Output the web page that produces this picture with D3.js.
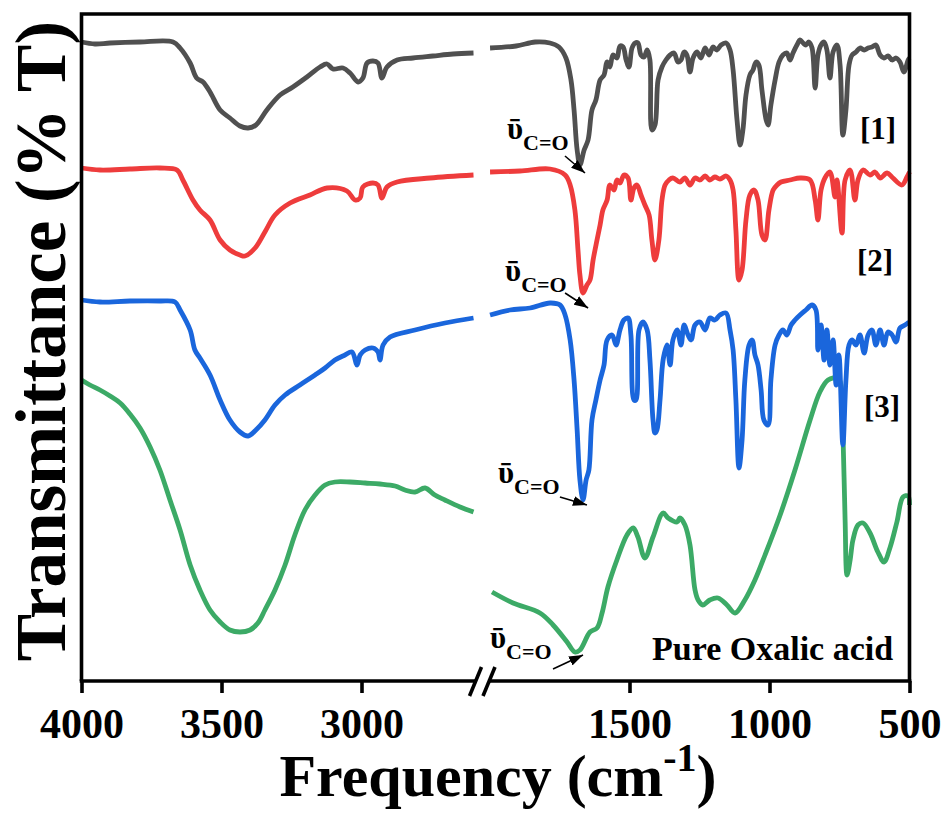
<!DOCTYPE html>
<html><head><meta charset="utf-8">
<script src="https://cdn.jsdelivr.net/npm/d3@7"></script>
<style>
body{margin:0;background:#fff}
svg{display:block}
text{font-family:"Liberation Serif","Times New Roman",serif;font-weight:bold;fill:#000}
</style>
</head><body>
<svg id="chart" width="948" height="814"></svg>
<script>
// ---- data ----
const xTickValues = [4000, 3500, 3000, 1500, 1000, 500];
const seriesNames = ["[1]", "[2]", "[3]", "Pure Oxalic acid"];
const seriesColors = ["#505050", "#ee3c3c", "#1a66dc", "#3caa66"];

const s1Left = [[4000,63.9],[3952,63.7],[3898,63.8],[3791,63.9],[3673,63.9],[3648,63.3],[3612,61.8],[3589,60.3],[3566,59.9],[3541,58.9],[3505,57.1],[3470,56.3],[3434,55.5],[3405,55.3],[3377,55.6],[3338,57.1],[3291,58.6],[3245,59.4],[3195,60.4],[3148,61.4],[3123,61.7],[3102,61.2],[3066,61.3],[3041,60.8],[3012,59.9],[2995,60.3],[2980,61.8],[2959,62.0],[2941,61.8],[2927,60.3],[2909,61.4],[2873,62.1],[2816,62.3],[2745,62.5],[2673,62.7],[2600,62.8]];
const s1Right = [[1998,63.3],[1905,63.5],[1837,63.9],[1784,63.8],[1752,63.4],[1727,62.3],[1709,60.1],[1698,57.1],[1687,53.1],[1677,51.6],[1662,53.1],[1648,54.1],[1634,57.1],[1620,58.1],[1605,60.1],[1591,60.6],[1580,61.9],[1570,61.4],[1559,62.6],[1545,62.3],[1534,63.5],[1523,63.4],[1512,62.1],[1502,61.4],[1491,63.3],[1480,63.8],[1470,63.8],[1459,62.6],[1448,62.4],[1437,63.1],[1427,62.1],[1420,55.1],[1409,55.6],[1398,60.1],[1384,61.4],[1370,62.1],[1355,62.6],[1341,62.8],[1327,61.9],[1316,62.1],[1305,62.9],[1295,62.6],[1284,60.9],[1273,62.3],[1259,62.9],[1245,62.3],[1230,63.3],[1216,62.6],[1202,63.4],[1188,63.1],[1173,63.6],[1155,63.8],[1141,63.1],[1130,61.1],[1116,56.1],[1105,53.6],[1095,55.1],[1084,58.6],[1070,60.6],[1059,61.1],[1048,61.9],[1038,61.6],[1027,59.1],[1012,56.1],[1005,55.6],[995,57.6],[980,60.1],[966,61.9],[952,62.6],[938,62.8],[927,62.1],[916,62.8],[902,63.6],[891,64.1],[880,63.8],[870,63.6],[859,63.9],[848,63.3],[837,59.3],[827,62.6],[816,63.6],[805,63.9],[795,63.1],[784,60.3],[773,62.9],[759,63.6],[748,61.6],[738,54.6],[727,57.1],[716,61.6],[705,62.6],[691,62.9],[677,63.3],[662,63.1],[648,63.3],[634,63.4],[620,63.6],[605,62.6],[591,62.3],[577,62.5],[562,62.1],[548,62.3],[534,61.9],[520,60.9],[505,62.1],[500,62.3]];

const s2Left = [[4000,51.3],[3934,51.1],[3827,51.2],[3720,51.3],[3659,51.1],[3638,50.1],[3602,48.1],[3577,47.1],[3541,46.1],[3505,44.1],[3470,43.1],[3434,42.6],[3416,42.5],[3380,43.3],[3345,44.9],[3309,46.6],[3255,47.8],[3184,48.6],[3123,49.3],[3052,49.0],[3023,48.1],[3005,48.3],[2995,49.4],[2959,49.8],[2941,49.6],[2927,48.3],[2909,49.4],[2873,49.9],[2755,50.3],[2600,50.6]];
const s2Right = [[1998,50.9],[1891,51.0],[1784,51.2],[1730,50.6],[1712,49.6],[1695,47.1],[1684,43.1],[1677,40.6],[1666,38.8],[1652,39.6],[1641,40.1],[1630,42.1],[1616,44.1],[1605,45.6],[1595,47.1],[1580,48.1],[1570,49.6],[1555,49.1],[1545,50.1],[1534,49.8],[1520,50.6],[1505,50.3],[1495,48.1],[1484,49.3],[1473,49.6],[1459,48.6],[1445,47.6],[1430,46.6],[1420,44.1],[1409,42.1],[1395,44.1],[1384,48.1],[1373,49.6],[1359,50.1],[1345,50.3],[1320,49.9],[1302,50.3],[1284,49.6],[1266,50.3],[1248,50.1],[1230,50.5],[1213,50.1],[1195,50.4],[1177,50.2],[1155,50.5],[1141,50.1],[1130,49.1],[1120,45.1],[1109,40.1],[1098,41.1],[1084,46.1],[1070,48.6],[1055,49.1],[1041,48.1],[1027,44.6],[1016,44.1],[1002,47.1],[987,49.1],[973,49.6],[959,49.9],[927,50.1],[891,50.3],[855,50.1],[837,48.1],[827,46.1],[816,49.1],[802,50.3],[784,50.9],[766,48.4],[759,50.1],[741,44.8],[730,50.1],[712,51.1],[695,48.1],[684,50.1],[666,51.1],[641,50.6],[623,50.9],[605,50.3],[580,50.8],[559,50.3],[527,49.6],[509,50.4],[500,50.9]];

const s3Left = [[4000,38.1],[3934,37.9],[3827,38.0],[3720,38.0],[3666,37.9],[3648,37.1],[3612,35.1],[3595,33.1],[3577,32.3],[3541,30.6],[3505,28.1],[3470,26.1],[3434,24.9],[3405,24.5],[3377,25.1],[3345,26.1],[3309,27.6],[3273,28.6],[3220,29.6],[3166,30.6],[3130,31.3],[3095,32.1],[3059,32.6],[3034,32.9],[3016,31.6],[3005,32.6],[2987,33.1],[2959,33.3],[2941,32.9],[2934,32.1],[2923,33.6],[2898,34.4],[2809,35.1],[2702,35.8],[2600,36.3]];
const s3Right = [[1998,36.6],[1927,37.1],[1855,37.3],[1784,37.8],[1748,37.6],[1730,36.6],[1712,34.1],[1698,30.1],[1687,25.1],[1677,20.1],[1666,18.1],[1655,20.1],[1645,21.1],[1634,26.1],[1620,28.1],[1605,30.1],[1591,31.6],[1580,34.1],[1562,34.6],[1548,33.6],[1534,35.1],[1520,36.1],[1505,36.3],[1495,34.6],[1484,28.1],[1477,28.1],[1466,35.1],[1452,35.9],[1437,35.1],[1427,32.1],[1416,26.1],[1409,24.8],[1402,25.1],[1391,28.1],[1380,32.1],[1366,33.6],[1355,31.6],[1345,34.1],[1330,35.1],[1316,33.6],[1305,35.6],[1291,34.6],[1280,34.1],[1266,35.6],[1248,35.9],[1230,35.1],[1213,36.3],[1195,36.1],[1177,36.6],[1155,36.8],[1141,35.1],[1130,33.1],[1120,28.1],[1109,21.3],[1098,24.1],[1088,30.1],[1073,33.6],[1062,34.1],[1052,32.6],[1041,31.6],[1030,29.1],[1020,26.1],[1005,25.6],[995,30.1],[980,33.6],[966,34.6],[952,35.1],[938,34.6],[923,35.6],[909,36.1],[891,36.6],[870,37.1],[848,37.6],[834,37.1],[827,33.1],[816,35.6],[805,32.1],[795,35.1],[784,31.6],[773,34.1],[762,29.6],[752,32.6],[738,23.6],[727,30.1],[716,33.6],[705,34.1],[691,33.6],[677,34.6],[662,32.8],[648,34.6],[634,35.1],[620,33.6],[605,35.1],[591,33.6],[577,34.9],[562,34.6],[548,33.9],[534,35.3],[516,35.6],[502,35.9]];

const s4Left = [[4000,30.1],[3970,29.6],[3934,29.1],[3898,28.5],[3862,27.8],[3827,26.7],[3791,25.3],[3755,23.4],[3720,21.1],[3684,18.1],[3648,15.1],[3612,11.6],[3577,9.1],[3541,7.1],[3505,5.9],[3470,5.1],[3434,4.9],[3398,5.1],[3370,5.8],[3345,7.1],[3309,9.1],[3273,11.6],[3238,14.6],[3202,17.1],[3166,18.6],[3130,19.6],[3095,19.9],[3041,19.9],[2987,19.8],[2934,19.7],[2880,19.5],[2845,19.1],[2809,18.9],[2773,19.3],[2738,18.6],[2702,18.1],[2648,17.4],[2600,16.9]];
const s4Right = [[1991,8.9],[1916,7.8],[1820,6.8],[1773,5.6],[1723,3.9],[1695,2.9],[1677,3.1],[1641,4.9],[1616,5.3],[1598,6.8],[1577,9.4],[1545,12.1],[1509,14.6],[1487,15.3],[1470,14.4],[1445,12.3],[1416,14.4],[1380,16.8],[1362,16.3],[1330,15.9],[1320,16.3],[1302,15.6],[1284,13.6],[1266,9.1],[1255,8.1],[1238,7.6],[1213,8.1],[1184,8.3],[1152,7.6],[1123,6.8],[1088,8.1],[1052,10.1],[1016,12.6],[962,16.6],[909,21.1],[855,26.1],[820,28.9],[791,30.1],[755,30.3],[745,29.6],[738,25.1],[730,16.1],[723,10.6],[712,12.1],[702,14.1],[684,15.6],[666,15.8],[641,14.8],[613,12.9],[591,11.9],[570,13.3],[545,15.9],[523,18.4],[505,18.5],[500,17.6]];

// C=O annotation arrow tips [wavenumber, value]
const coArrowTips = [[1659,50.8],[1648,37.3],[1652,17.6],[1666,2.6]];

// ---- layout ----
const W = 948, H = 814;
const L = 81.5, R = 909.5, T = 14, B = 681;
const svg = d3.select("#chart");
svg.append("rect").attr("width", W).attr("height", H).attr("fill", "#fff");

const x = d3.scaleLinear().domain([4000, 2600, 2000, 500]).range([L, 473.5, 489.5, R]);
const y = d3.scaleLinear().domain([0, 66.7]).range([B, T]);

const line = d3.line().x(d => x(d[0])).y(d => y(d[1])).curve(d3.curveCatmullRom.alpha(0.5));

const allSeries = [[s1Left, s1Right], [s2Left, s2Right], [s3Left, s3Right], [s4Left, s4Right]];
[3, 2, 1, 0].forEach(i => {
  allSeries[i].forEach(seg => {
    svg.append("path").attr("d", line(seg)).attr("fill", "none")
      .attr("stroke", seriesColors[i]).attr("stroke-width", 4.8)
      .attr("stroke-linejoin", "round").attr("stroke-linecap", "butt");
  });
});

// frame
const fw = 3.6;
svg.append("path").attr("d", `M${L},${B} V${T} H${R} V${B}`).attr("fill", "none")
  .attr("stroke", "#000").attr("stroke-width", fw).attr("stroke-linejoin", "miter");

// bottom axis with break
const axisG = svg.append("g").attr("transform", `translate(0,${B})`);
const axis = d3.axisBottom(x).tickValues(xTickValues).tickSize(12).tickPadding(15).tickFormat(d3.format("d"));
axisG.call(axis);
axisG.select(".domain").remove();
axisG.selectAll(".tick line").attr("stroke", "#000").attr("stroke-width", fw);
axisG.selectAll(".tick text").attr("font-size", 42).attr("font-family", '"Liberation Serif",serif')
  .attr("font-weight", "bold").attr("fill", "#000");
const bx1 = 475.5, bx2 = 489;
svg.append("line").attr("x1", L - fw / 2).attr("x2", bx1).attr("y1", B).attr("y2", B).attr("stroke", "#000").attr("stroke-width", fw);
svg.append("line").attr("x1", bx2).attr("x2", R + fw / 2).attr("y1", B).attr("y2", B).attr("stroke", "#000").attr("stroke-width", fw);
[bx1, bx2].forEach(bx => {
  svg.append("line").attr("x1", bx - 6).attr("y1", B + 15).attr("x2", bx + 6).attr("y2", B - 14)
    .attr("stroke", "#000").attr("stroke-width", 3.6);
});

// axis titles
svg.append("text").attr("transform", `translate(65,341) rotate(-90)`).attr("text-anchor", "middle")
  .attr("font-size", 71).text("Transmittance (% T)");
const xt = svg.append("text").attr("x", 498).attr("y", 796).attr("text-anchor", "middle").attr("font-size", 60);
xt.append("tspan").text("Frequency (cm");
xt.append("tspan").attr("font-size", 40).attr("dy", -25).text("-1");
xt.append("tspan").attr("dy", 25).text(")");

// series labels
const labelPos = [[860, 139], [857, 271], [864, 417], [652, 660]];
const labelSize = [31, 31, 31, 34];
seriesNames.forEach((n, i) => {
  svg.append("text").attr("x", labelPos[i][0]).attr("y", labelPos[i][1]).attr("font-size", labelSize[i]).text(n);
});

// C=O annotations
const annOffsets = [[-78, -34, -20, -17], [-83, -27, -23, -15], [-89, -22, -27, -8], [-93, -7, -30, 14]];
svg.append("defs").append("marker").attr("id", "ah").attr("viewBox", "0 0 10 10").attr("refX", 10).attr("refY", 5)
  .attr("markerWidth", 14).attr("markerHeight", 10).attr("markerUnits", "userSpaceOnUse")
  .attr("preserveAspectRatio", "none").attr("orient", "auto")
  .append("path").attr("d", "M0,0 L10,5 L0,10 z").attr("fill", "#000");
coArrowTips.forEach((tip, i) => {
  const tx = x(tip[0]), ty = y(tip[1]);
  const o = annOffsets[i];
  const t = svg.append("text").attr("x", tx + o[0]).attr("y", ty + o[1]).attr("font-size", 31);
  t.append("tspan").text("\u1FE1");
  t.append("tspan").attr("font-size", 22).attr("dy", 11).text("C=O");
  svg.append("line").attr("x1", tx + o[2]).attr("y1", ty + o[3]).attr("x2", tx).attr("y2", ty)
    .attr("stroke", "#000").attr("stroke-width", 1.6).attr("marker-end", "url(#ah)");
});
</script>
</body></html>
